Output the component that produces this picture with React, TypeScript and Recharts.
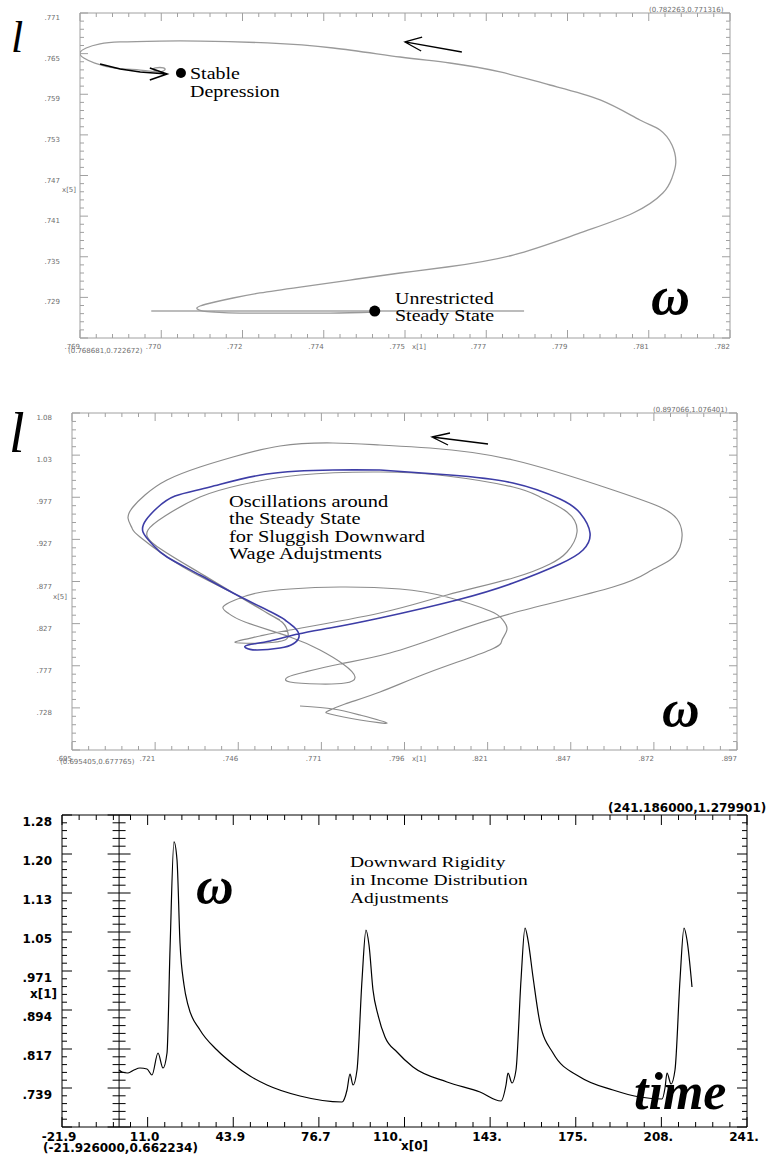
import React from 'react';
import { LineChart, Line, XAxis, YAxis, ReferenceArea, ReferenceDot, ReferenceLine } from 'recharts';

// ---- panel 1: l against omega, stable depression ----
const p1X = [0.768681, 0.782263];
const p1Y = [0.722672, 0.771316];
const p1XLabels = ['.769', '.770', '.772', '.774', '.775', '.777', '.779', '.781', '.782'];
const p1YLabels = ['', '.729', '.735', '.741', '.747', '.753', '.759', '.765', '.771'];

const p1Orbit: number[][] = [
  [0.77484, 0.72656], [0.77391, 0.72641], [0.77286, 0.72641], [0.77202, 0.72641], [0.7715, 0.72656],
  [0.77125, 0.72671], [0.77113, 0.72701], [0.77119, 0.72746], [0.7715, 0.72806], [0.77188, 0.72866],
  [0.77244, 0.72941], [0.77328, 0.7303], [0.77432, 0.73135], [0.77537, 0.7324], [0.77635, 0.7333],
  [0.77773, 0.73509], [0.77913, 0.73839], [0.78024, 0.74138], [0.78086, 0.74437], [0.78105, 0.74662],
  [0.78113, 0.74886], [0.78105, 0.75156], [0.7808, 0.75381], [0.78038, 0.7553], [0.77955, 0.7583],
  [0.7785, 0.76054], [0.77746, 0.76249], [0.77641, 0.76383], [0.77537, 0.76473], [0.77397, 0.76608],
  [0.77259, 0.76683], [0.77119, 0.76712], [0.77035, 0.76712], [0.76952, 0.76698], [0.7691, 0.76668],
  [0.76881, 0.76608], [0.76868, 0.76533], [0.76876, 0.76458], [0.76899, 0.76383], [0.76941, 0.76308],
  [0.76994, 0.76278], [0.77031, 0.76248], [0.77042, 0.76263], [0.77046, 0.76293], [0.77035, 0.76316],
  [0.77021, 0.76293], [0.77029, 0.76263],
];
const p1SteadyLine = [[0.77017, 0.72671], [0.77796, 0.72671]];
const p1Steady = [0.77484, 0.72671];
const p1Depression = [0.77079, 0.76233];
const p1ArrowTop = [[0.77666, 0.76548], [0.77547, 0.76698], [0.77583, 0.76772], [0.77547, 0.76698], [0.77581, 0.76563]];
const p1ArrowDep = [
  [0.7691, 0.76368], [0.76952, 0.76293], [0.76994, 0.76248], [0.7705, 0.76219],
  [0.77014, 0.76308], [0.7705, 0.76219], [0.77014, 0.76129],
];

// ---- panel 2: oscillations around the steady state ----
const p2X = [0.695405, 0.897066];
const p2Y = [0.677765, 1.076401];
const p2XLabels = ['.695', '.721', '.746', '.771', '.796', '.821', '.847', '.872', '.897'];
const p2YLabels = ['', '.728', '.777', '.827', '.877', '.927', '.977', '1.03', '1.08'];

const p2Transient: number[][] = [
  [0.76455, 0.72981], [0.77455, 0.72626], [0.78274, 0.71917], [0.79093, 0.7097], [0.78274, 0.71325],
  [0.77364, 0.72035], [0.77304, 0.7239], [0.77819, 0.73218], [0.78881, 0.74637], [0.80397, 0.77003],
  [0.82216, 0.79605], [0.8258, 0.80788], [0.82732, 0.8209], [0.8258, 0.83272], [0.82216, 0.84219],
  [0.80912, 0.85875], [0.79487, 0.86821], [0.77668, 0.87058], [0.76151, 0.86821], [0.75151, 0.86348],
  [0.74484, 0.8552], [0.7412, 0.84692], [0.74271, 0.83982], [0.74787, 0.82918], [0.76151, 0.81143],
  [0.77061, 0.79605], [0.77759, 0.77949], [0.78123, 0.76412], [0.77819, 0.75702], [0.77061, 0.75583],
  [0.76151, 0.7582], [0.76091, 0.76412], [0.76606, 0.77003], [0.77668, 0.77949], [0.79184, 0.79251],
  [0.80912, 0.81498], [0.82914, 0.83982], [0.85946, 0.87058], [0.87068, 0.8895], [0.87675, 0.90251],
  [0.87978, 0.91789], [0.88039, 0.93445], [0.87887, 0.95101], [0.87372, 0.96521], [0.85946, 0.98532],
  [0.82914, 1.0208], [0.80397, 1.035], [0.78881, 1.03855], [0.77455, 1.04091], [0.75848, 1.03737],
  [0.74423, 1.02435], [0.73422, 1.01252], [0.72421, 0.99715], [0.71754, 0.9794], [0.7139, 0.96521],
  [0.71239, 0.9522], [0.7136, 0.94037], [0.71603, 0.92972], [0.72907, 0.89423], [0.74423, 0.86348],
  [0.75454, 0.83982], [0.75939, 0.82799], [0.76091, 0.81616], [0.76, 0.80788], [0.75393, 0.80433],
  [0.74635, 0.80433], [0.74575, 0.8067], [0.75242, 0.81261], [0.76151, 0.81971], [0.78881, 0.83982],
  [0.80912, 0.86111], [0.82914, 0.88122], [0.84036, 0.89778], [0.84551, 0.91198], [0.84855, 0.93564],
  [0.84551, 0.95929], [0.83733, 0.97704], [0.82914, 0.98887], [0.80912, 1.00188], [0.78881, 1.00661],
  [0.76455, 1.00306], [0.74635, 0.99123], [0.73422, 0.97704], [0.72361, 0.95456], [0.71845, 0.938],
  [0.72058, 0.92026], [0.73422, 0.88714], [0.74938, 0.85165], [0.75848, 0.83154],
];
const p2Cycle: number[][] = [
  [0.78881, 1.00898], [0.81003, 1.00306], [0.82914, 0.9936], [0.84339, 0.97467], [0.84946, 0.95811],
  [0.85249, 0.93445], [0.85037, 0.91434], [0.84339, 0.89778], [0.82914, 0.87531], [0.81216, 0.8552],
  [0.78881, 0.83391], [0.77364, 0.82208], [0.76394, 0.81498], [0.75545, 0.8067], [0.74878, 0.80197],
  [0.74817, 0.79842], [0.75151, 0.79605], [0.75848, 0.79842], [0.76242, 0.80315], [0.76424, 0.81143],
  [0.76303, 0.82208], [0.76, 0.83154], [0.75636, 0.83982], [0.74423, 0.86348], [0.73422, 0.88477],
  [0.72421, 0.90606], [0.71997, 0.92026], [0.71694, 0.93564], [0.71785, 0.94983], [0.72118, 0.96403],
  [0.72664, 0.97822], [0.73725, 0.98887], [0.75454, 1.00424], [0.77455, 1.00898], [0.78881, 1.00898],
];
const p2Arrow = [[0.82156, 1.03973], [0.80458, 1.04801], [0.81003, 1.05274], [0.80458, 1.04801], [0.80943, 1.03855]];

// ---- panel 3: omega over time ----
const p3X = [-21.926, 241.186];
const p3Y = [0.662234, 1.279901];
const p3XLabels = ['-21.9', '11.0', '43.9', '76.7', '110.', '143.', '175.', '208.', '241.'];
const p3YLabels = ['', '.739', '.817', '.894', '.971', '1.05', '1.13', '1.20', '1.28'];

const p3Omega: number[][] = [
  [0.0, 0.7751], [1.12, 0.7711], [3.43, 0.7691], [5.73, 0.7751], [8.03, 0.779], [10.72, 0.7771],
  [12.64, 0.7652], [14.95, 0.8087], [16.87, 0.779], [18.41, 0.8087], [19.56, 1.0126], [21.09, 1.2265],
  [22.25, 1.1908], [23.4, 1.0265], [24.94, 0.9434], [26.47, 0.9038], [31.08, 0.8543], [37.61, 0.8147],
  [43.76, 0.787], [50.29, 0.7632], [56.82, 0.7454], [69.49, 0.7236], [85.63, 0.7117], [87.55, 0.7355],
  [88.7, 0.7672], [89.85, 0.7454], [91.39, 0.7751], [93.31, 0.9533], [94.84, 1.0522], [96.0, 1.0225],
  [97.53, 0.9335], [99.45, 0.884], [102.14, 0.8404], [106.75, 0.8107], [112.9, 0.781], [125.96, 0.7513],
  [138.63, 0.7315], [146.7, 0.7137], [148.62, 0.7454], [149.39, 0.7691], [150.92, 0.7493], [152.46, 0.7751],
  [154.38, 0.9533], [155.92, 1.0562], [157.07, 1.0324], [158.99, 0.9592], [161.68, 0.8681], [166.67, 0.8087],
  [177.04, 0.7612], [189.72, 0.7355], [200.09, 0.7216], [208.54, 0.7177], [209.69, 0.7394], [210.46, 0.7691],
  [212.0, 0.7474], [213.53, 0.7751], [215.45, 0.9533], [216.99, 1.0562], [218.14, 1.0324], [220.06, 0.9394],
];

const pts = (a: number[][]) => a.map(([x, y]) => ({ x, y }));
// 8 major intervals, 5 minor steps each
const tickRange = ([a, b]: number[]) => Array.from({ length: 41 }, (_, i) => a + (i * (b - a)) / 40);

type Look = {
  color: string; major: number; minor: number; font: string; size: number; weight: number;
  text: string; xAnchor: 'end' | 'middle'; xDx: number; xDy: number; yGap: number; yDy: number;
  endLabels?: string[];
};

const grayLook: Look = {
  color: '#a0a0a0', major: 8, minor: 4, font: 'DejaVu Sans', size: 7, weight: 400,
  text: '#6e6e6e', xAnchor: 'end', xDx: 0, xDy: 11, yGap: 20, yDy: 7,
};
const blackLook: Look = {
  color: '#000', major: 10, minor: 5, font: 'DejaVu Sans', size: 12, weight: 700,
  text: '#000', xAnchor: 'middle', xDx: -3, xDy: 13.5, yGap: 10, yDy: 10.5, endLabels: ['110.'],
};

const xTick = (look: Look, labels: string[], plotH: number) => (p: any) => {
  const { x, y, index } = p;
  const major = index % 5 === 0;
  const len = major ? look.major : look.minor;
  const label = major ? labels[index / 5] : '';
  const atEnd = look.endLabels && look.endLabels.includes(label);
  return (
    <g>
      <line x1={x} y1={y} x2={x} y2={y - len} stroke={look.color} />
      <line x1={x} y1={y - plotH} x2={x} y2={y - plotH + len} stroke={look.color} />
      {label ? (
        <text x={atEnd ? x - 2 : x + look.xDx} y={y + look.xDy} textAnchor={atEnd ? 'end' : look.xAnchor}
          fontFamily={look.font} fontSize={look.size} fontWeight={look.weight} fill={look.text}>{label}</text>
      ) : null}
    </g>
  );
};

const yTick = (look: Look, labels: string[], plotW: number, zeroAt?: number) => (p: any) => {
  const { x, y, index } = p;
  const major = index % 5 === 0;
  const len = major ? look.major : look.minor;
  const label = major ? labels[index / 5] : '';
  const zl = major ? 11.5 : 6.5;
  return (
    <g>
      <line x1={x} y1={y} x2={x + len} y2={y} stroke={look.color} />
      <line x1={x + plotW} y1={y} x2={x + plotW - len} y2={y} stroke={look.color} />
      {zeroAt !== undefined ? <line x1={x + zeroAt - zl} y1={y} x2={x + zeroAt + zl} y2={y} stroke={look.color} /> : null}
      {label ? (
        <text x={x - look.yGap} y={y + look.yDy} textAnchor="end"
          fontFamily={look.font} fontSize={look.size} fontWeight={look.weight} fill={look.text}>{label}</text>
      ) : null}
    </g>
  );
};

const Note = ({ x, base, size, text, family = 'Liberation Serif', italic = false, bold = false, color = '#000', sx = 1 }: any) => (
  <div style={{
    position: 'absolute', left: x, top: base - 0.84 * size, fontFamily: family, fontSize: size,
    lineHeight: `${size}px`, fontStyle: italic ? 'italic' : 'normal', fontWeight: bold ? 700 : 400,
    color, whiteSpace: 'nowrap', transform: `scaleX(${sx})`, transformOrigin: 'left top',
  }}>{text}</div>
);

const small = { family: 'DejaVu Sans', size: 7, color: '#6e6e6e' };
const bitmap = { family: 'DejaVu Sans', size: 12, bold: true, color: '#000' };

export default function App() {
  const zero3 = ((0 - p3X[0]) / (p3X[1] - p3X[0])) * 685;
  return (
    <div style={{ position: 'absolute', left: 0, top: 0, width: 771, height: 1159, background: '#fff', overflow: 'hidden' }}>
      <div style={{ position: 'absolute', left: 0, top: 0 }}>
        <LineChart width={771} height={380} margin={{ top: 13, right: 41, bottom: 22, left: 50 }}>
          <XAxis type="number" dataKey="x" domain={p1X} ticks={tickRange(p1X)} interval={0} allowDataOverflow
            tickSize={0} tickMargin={0} axisLine={false} tickLine={false} height={20} tick={xTick(grayLook, p1XLabels, 325)} />
          <YAxis type="number" domain={p1Y} ticks={tickRange(p1Y)} interval={0} allowDataOverflow
            tickSize={0} tickMargin={0} axisLine={false} tickLine={false} width={30} tick={yTick(grayLook, p1YLabels, 650)} />
          <ReferenceArea x1={p1X[0]} x2={p1X[1]} y1={p1Y[0]} y2={p1Y[1]} fill="none" stroke="#a0a0a0" ifOverflow="visible" />
          <Line data={pts(p1SteadyLine)} dataKey="y" type="linear" stroke="#7a7a7a" strokeWidth={1.2} dot={false} isAnimationActive={false} />
          <Line data={pts(p1Orbit)} dataKey="y" type="natural" stroke="#9a9a9a" strokeWidth={1.3} dot={false} isAnimationActive={false} />
          <Line data={pts(p1ArrowTop)} dataKey="y" type="linear" stroke="#000" strokeWidth={1.3} dot={false} isAnimationActive={false} />
          <Line data={pts(p1ArrowDep)} dataKey="y" type="linear" stroke="#000" strokeWidth={1.6} dot={false} isAnimationActive={false} />
          <ReferenceDot x={p1Depression[0]} y={p1Depression[1]} r={5} fill="#000" stroke="none" ifOverflow="visible" />
          <ReferenceDot x={p1Steady[0]} y={p1Steady[1]} r={5.5} fill="#000" stroke="none" ifOverflow="visible" />
        </LineChart>
      </div>

      <div style={{ position: 'absolute', left: 0, top: 390 }}>
        <LineChart width={771} height={390} margin={{ top: 23, right: 34, bottom: 10, left: 42 }}>
          <XAxis type="number" dataKey="x" domain={p2X} ticks={tickRange(p2X)} interval={0} allowDataOverflow
            tickSize={0} tickMargin={0} axisLine={false} tickLine={false} height={20} tick={xTick(grayLook, p2XLabels, 337)} />
          <YAxis type="number" domain={p2Y} ticks={tickRange(p2Y)} interval={0} allowDataOverflow
            tickSize={0} tickMargin={0} axisLine={false} tickLine={false} width={30} tick={yTick(grayLook, p2YLabels, 665)} />
          <ReferenceArea x1={p2X[0]} x2={p2X[1]} y1={p2Y[0]} y2={p2Y[1]} fill="none" stroke="#a0a0a0" ifOverflow="visible" />
          <Line data={pts(p2Transient)} dataKey="y" type="natural" stroke="#8c8c8c" strokeWidth={1.2} dot={false} isAnimationActive={false} />
          <Line data={pts(p2Cycle)} dataKey="y" type="natural" stroke="#3d3da6" strokeWidth={1.6} dot={false} isAnimationActive={false} />
          <Line data={pts(p2Arrow)} dataKey="y" type="linear" stroke="#000" strokeWidth={1.3} dot={false} isAnimationActive={false} />
        </LineChart>
      </div>

      <div style={{ position: 'absolute', left: 0, top: 790 }}>
        <LineChart width={771} height={369} margin={{ top: 25, right: 24, bottom: 12, left: 32 }}>
          <XAxis type="number" dataKey="x" domain={p3X} ticks={tickRange(p3X)} interval={0} allowDataOverflow
            tickSize={0} tickMargin={0} axisLine={false} tickLine={false} height={20} tick={xTick(blackLook, p3XLabels, 312)} />
          <YAxis type="number" domain={p3Y} ticks={tickRange(p3Y)} interval={0} allowDataOverflow
            tickSize={0} tickMargin={0} axisLine={false} tickLine={false} width={30} tick={yTick(blackLook, p3YLabels, 685, zero3)} />
          <ReferenceArea x1={p3X[0]} x2={p3X[1]} y1={p3Y[0]} y2={p3Y[1]} fill="none" stroke="#000" ifOverflow="visible" />
          <ReferenceLine x={0} stroke="#000" />
          <Line data={pts(p3Omega)} dataKey="y" type="monotone" stroke="#000" strokeWidth={1.2} dot={false} isAnimationActive={false} />
        </LineChart>
      </div>

      {/* panel 1 notes */}
      <Note x={11} base={53} size={44} text="l" italic />
      <Note x={651} base={314} size={54} text="ω" italic bold />
      <Note x={190} base={80} size={17.5} text="Stable" sx={1.14} />
      <Note x={190} base={98} size={17.5} text="Depression" sx={1.14} />
      <Note x={395} base={305} size={17.5} text="Unrestricted" sx={1.14} />
      <Note x={395} base={322} size={17.5} text="Steady State" sx={1.14} />
      <Note x={649} base={13} text="(0.782263,0.771316)" {...small} />
      <Note x={68} base={354} text="(0.768681,0.722672)" {...small} />
      <Note x={62} base={193} text="x[5]" {...small} />
      <Note x={412} base={350} text="x[1]" {...small} />

      {/* panel 2 notes */}
      <Note x={9} base={452} size={56} text="l" italic />
      <Note x={662} base={727} size={52} text="ω" italic bold />
      <Note x={229} base={507} size={17} text="Oscillations around" sx={1.2} />
      <Note x={229} base={524.5} size={17} text="the Steady State" sx={1.2} />
      <Note x={229} base={542} size={17} text="for Sluggish Downward" sx={1.2} />
      <Note x={229} base={559.5} size={17} text="Wage Adujstments" sx={1.2} />
      <Note x={653} base={413} text="(0.897066,1.076401)" {...small} />
      <Note x={60} base={765} text="(0.695405,0.677765)" {...small} />
      <Note x={53} base={600} text="x[5]" {...small} />
      <Note x={412} base={762} text="x[1]" {...small} />

      {/* panel 3 notes */}
      <Note x={196} base={904} size={52} text="ω" italic bold />
      <Note x={634} base={1110} size={52} text="time" italic bold />
      <Note x={350} base={868} size={15} text="Downward Rigidity" sx={1.3} />
      <Note x={350} base={886} size={15} text="in Income Distribution" sx={1.3} />
      <Note x={350} base={903.5} size={15} text="Adjustments" sx={1.3} />
      <Note x={608} base={812} text="(241.186000,1.279901)" {...bitmap} />
      <Note x={43} base={1152} text="(-21.926000,0.662234)" {...bitmap} />
      <Note x={30} base={998} text="x[1]" {...bitmap} />
      <Note x={401} base={1150} text="x[0]" {...bitmap} />
    </div>
  );
}
